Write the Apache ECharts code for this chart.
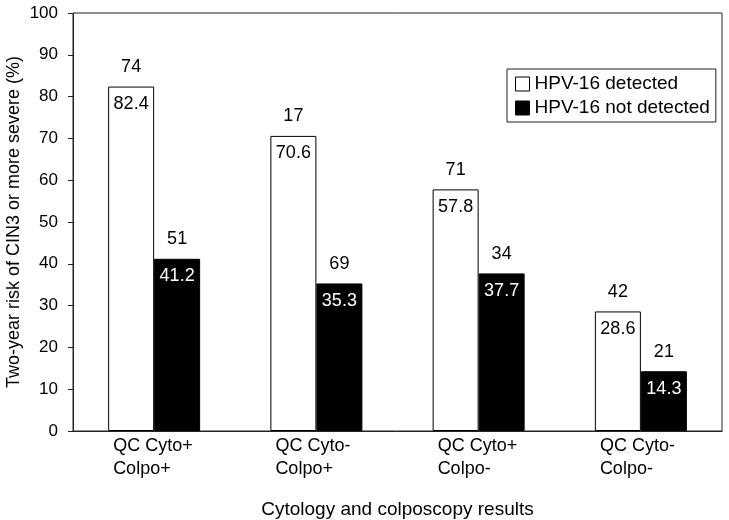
<!DOCTYPE html>
<html>
<head>
<meta charset="utf-8">
<script src="https://cdn.jsdelivr.net/npm/echarts@6/dist/echarts.min.js"></script>
<style>html,body{margin:0;padding:0;background:#fff}#c{width:729px;height:520px}</style>
</head>
<body>
<div id="c"></div>
<script>
var categories = ['QC Cyto+\nColpo+', 'QC Cyto-\nColpo+', 'QC Cyto+\nColpo-', 'QC Cyto-\nColpo-'];
var detectedValues = [82.4, 70.6, 57.8, 28.6];
var detectedCounts = [74, 17, 71, 42];
var notDetectedValues = [41.2, 35.3, 37.7, 14.3];
var notDetectedCounts = [51, 69, 34, 21];
var yTicks = [0, 10, 20, 30, 40, 50, 60, 70, 80, 90, 100];

var FONT = '"Liberation Sans", Arial, sans-serif';
var chart = echarts.init(document.getElementById('c'));

function makeLabel(counts, valColor) {
  return {
    show: true,
    position: 'insideTop',
    distance: 5,
    offset: [0, -43],
    formatter: function (p) {
      return '{n|' + counts[p.dataIndex] + '}\n{v|' + p.value.toFixed(1) + '}';
    },
    rich: {
      n: { color: '#000', fontSize: 18, fontFamily: FONT, lineHeight: 37 },
      v: { color: valColor, fontSize: 18, fontFamily: FONT, lineHeight: 37 }
    }
  };
}

chart.setOption({
  backgroundColor: '#fff',
  animation: false,
  textStyle: { fontFamily: FONT },
  grid: {
    left: 73, right: 7, top: 13, bottom: 89,
    containLabel: false, outerBoundsMode: 'none',
    show: true, borderColor: '#222', borderWidth: 1
  },
  legend: {
    orient: 'vertical',
    left: 507,
    top: 69,
    padding: [5, 6, 4, 8],
    itemWidth: 14,
    itemHeight: 14,
    itemGap: 4,
    backgroundColor: '#fff',
    borderColor: '#222',
    borderWidth: 1,
    textStyle: { color: '#000', fontSize: 19, fontFamily: FONT, lineHeight: 20 },
    data: [
      { name: 'HPV-16 detected', icon: 'rect', itemStyle: { color: '#fff', borderColor: '#000', borderWidth: 1 } },
      { name: 'HPV-16 not detected', icon: 'rect', itemStyle: { color: '#000', borderColor: '#000', borderWidth: 1 } }
    ]
  },
  xAxis: {
    type: 'category',
    data: categories,
    name: 'Cytology and colposcopy results',
    nameLocation: 'middle',
    nameGap: 69,
    nameMoveOverlap: false,
    nameTextStyle: { color: '#000', fontSize: 19, fontFamily: FONT },
    axisLine: { lineStyle: { color: '#222', width: 1 } },
    axisTick: { show: false },
    axisLabel: {
      color: '#000',
      margin: 4,
      formatter: function (v) {
        var parts = v.split('\n');
        return '{a|' + parts[0] + '}\n{a|' + parts[1] + '}';
      },
      rich: {
        a: { width: 82, align: 'left', fontSize: 18, fontFamily: FONT, color: '#000', lineHeight: 23 }
      }
    }
  },
  yAxis: {
    type: 'value',
    min: yTicks[0],
    max: yTicks[yTicks.length - 1],
    interval: 10,
    name: 'Two-year risk of CIN3 or more severe (%)',
    nameLocation: 'middle',
    nameGap: 50,
    nameMoveOverlap: false,
    nameTextStyle: { color: '#000', fontSize: 18, fontFamily: FONT },
    axisLine: { show: true, lineStyle: { color: '#222', width: 1 } },
    axisTick: { show: true, length: 5, lineStyle: { color: '#222' } },
    axisLabel: { color: '#000', fontSize: 17, fontFamily: FONT, margin: 15 },
    splitLine: { show: false }
  },
  series: [
    {
      name: 'HPV-16 detected',
      type: 'bar',
      data: detectedValues,
      barWidth: 46,
      barGap: '0%',
      itemStyle: { color: '#fff', borderColor: '#000', borderWidth: 1 },
      label: makeLabel(detectedCounts, '#000')
    },
    {
      name: 'HPV-16 not detected',
      type: 'bar',
      data: notDetectedValues,
      barWidth: 46,
      barGap: '0%',
      itemStyle: { color: '#000', borderColor: '#000', borderWidth: 1 },
      label: makeLabel(notDetectedCounts, '#fff')
    }
  ]
});
</script>
</body>
</html>
